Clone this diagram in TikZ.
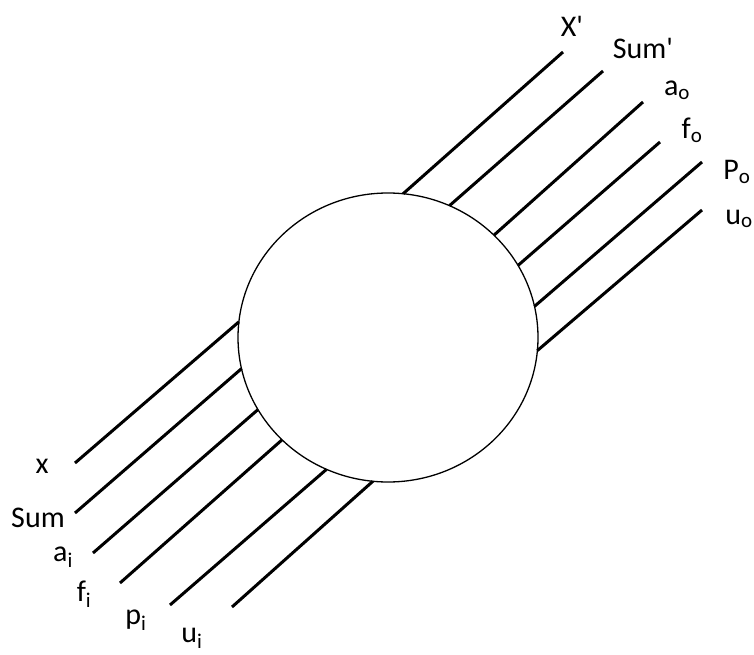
\documentclass[tikz,border=0pt]{standalone}
\usepackage{fontspec}
\setmainfont{Carlito}[Ligatures=TeXOff]
\usetikzlibrary{shapes.geometric}

\begin{document}
\begin{tikzpicture}[x=1pt, y=-1pt,
  wire/.style={line width=3pt},
  lbl/.style={font=\fontsize{30}{32}\selectfont, inner sep=0pt}]
  \useasboundingbox (0,0) rectangle (754,655);
  \node[draw, ellipse, line width=1.3pt, inner sep=0pt, outer sep=0pt,
        minimum width=300pt, minimum height=289pt] (proc) at (388,337.5) {};
  % outer ends of the output lines
  \coordinate (Xo) at (563,52);
  \coordinate (So) at (603,71);
  \coordinate (Ao) at (643,102);
  \coordinate (Fo) at (660,142);
  \coordinate (Po) at (702,162);
  \coordinate (Uo) at (702,210);
  % outer ends of the input lines
  \coordinate (Xi) at (75,463);
  \coordinate (Si) at (75,513);
  \coordinate (Ai) at (93,553);
  \coordinate (Fi) at (120,583);
  \coordinate (Pi) at (170,605);
  \coordinate (Ui) at (232,607);
  \draw[wire] (proc.84.5)--(Xo);
  \draw[wire] (proc.65.1)--(So);
  \draw[wire] (proc.44.6)--(Ao);
  \draw[wire] (proc.29.1)--(Fo);
  \draw[wire] (proc.12.9)--(Po);
  \draw[wire] (proc.-5.5)--(Uo);
  \draw[wire] (proc.174.1)--(Xi);
  \draw[wire] (proc.192.2)--(Si);
  \draw[wire] (proc.209.3)--(Ai);
  \draw[wire] (proc.224.6)--(Fi);
  \draw[wire] (proc.245.4)--(Pi);
  \draw[wire] (proc.264.9)--(Ui);
  \node[lbl] (lXo) at (572,26) {X'};
  \node[lbl] (lSo) at (643,48) {Sum'};
  \node[lbl] (lAo) at (677,90) {a\textsubscript{o}};
  \node[lbl] (lFo) at (692,130) {f\textsubscript{o}};
  \node[lbl] (lPo) at (737,172) {P\textsubscript{o}};
  \node[lbl] (lUo) at (739,219) {u\textsubscript{o}};
  \node[lbl] (lXi) at (42,466) {x};
  \node[lbl] (lSi) at (38,518) {Sum};
  \node[lbl] (lAi) at (63,557) {a\textsubscript{i}};
  \node[lbl] (lFi) at (84,594) {f\textsubscript{i}};
  \node[lbl] (lPi) at (136,620) {p\textsubscript{i}};
  \node[lbl] (lUi) at (192,638) {u\textsubscript{i}};
\end{tikzpicture}
\end{document}
